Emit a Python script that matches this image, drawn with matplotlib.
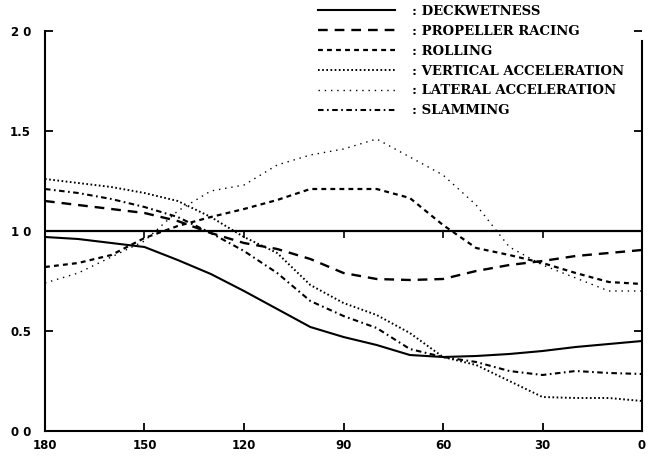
import matplotlib
matplotlib.use("Agg")
import matplotlib.pyplot as plt
from matplotlib.lines import Line2D

plt.rcParams['font.family'] = ['DejaVu Serif', 'Liberation Serif']
plt.rcParams['lines.scale_dashes'] = False

# ---- data ----
angle = [180, 170, 160, 150, 140, 130, 120, 110, 100, 90, 80, 70, 60, 50, 40, 30, 20, 10, 0]
deckwetness = [0.97, 0.96, 0.94, 0.92, 0.855, 0.785, 0.70, 0.61, 0.52, 0.47, 0.43, 0.38, 0.37, 0.375, 0.385, 0.40, 0.42, 0.435, 0.45]
propeller = [1.15, 1.13, 1.11, 1.09, 1.05, 0.99, 0.94, 0.91, 0.86, 0.79, 0.76, 0.755, 0.76, 0.80, 0.83, 0.85, 0.875, 0.89, 0.905]
rolling = [0.82, 0.84, 0.88, 0.965, 1.025, 1.07, 1.11, 1.155, 1.21, 1.21, 1.21, 1.165, 1.03, 0.915, 0.88, 0.84, 0.79, 0.745, 0.735]
vertical = [1.26, 1.24, 1.22, 1.19, 1.15, 1.07, 0.97, 0.89, 0.73, 0.64, 0.58, 0.49, 0.37, 0.33, 0.25, 0.17, 0.165, 0.165, 0.15]
lateral = [0.74, 0.79, 0.87, 0.95, 1.10, 1.20, 1.23, 1.33, 1.38, 1.41, 1.46, 1.37, 1.28, 1.13, 0.92, 0.83, 0.765, 0.70, 0.70]
slamming = [1.21, 1.19, 1.16, 1.12, 1.07, 0.99, 0.90, 0.79, 0.65, 0.575, 0.515, 0.41, 0.37, 0.345, 0.30, 0.28, 0.30, 0.29, 0.285]
baseline = 1.0
baseline_ticks = [150, 120, 90, 60, 30]

labels = [": DECKWETNESS", ": PROPELLER RACING", ": ROLLING",
          ": VERTICAL ACCELERATION", ": LATERAL ACCELERATION", ": SLAMMING"]
xticks = [180, 150, 120, 90, 60, 30, 0]
yticks = [0.0, 0.5, 1.0, 1.5, 2.0]
ytick_labels = ["0 0", "0.5", "1 0", "1.5", "2 0"]

styles = [
    dict(linestyle='-', lw=1.5),
    dict(linestyle=(0, (7, 5)), lw=1.7),
    dict(linestyle=(0, (3.5, 3)), lw=1.6),
    dict(linestyle=(0, (1.2, 1.8)), lw=1.4),
    dict(linestyle=(0, (1, 3.5)), lw=1.0),
    dict(linestyle=(0, (4, 2.5, 1.2, 2.5)), lw=1.5),
]
series = [deckwetness, propeller, rolling, vertical, lateral, slamming]

fig = plt.figure(figsize=(6.5, 4.62), dpi=100)
ax = fig.add_axes([45/650, 31/462, 597/650, 400/462])

for s, st in zip(series, styles):
    ax.plot(angle, s, color='black', **st)

ax.plot([angle[0], angle[-1]], [baseline, baseline], color='black', lw=1.6)
ax.plot(baseline_ticks, [baseline]*len(baseline_ticks), linestyle='none',
        marker=3, ms=5, mew=1.2, color='black')

ax.set_xlim(180, 0)
ax.set_ylim(0, 2.0)
ax.set_xticks(xticks)
ax.set_xticklabels([str(v) for v in xticks], fontsize=8.5, fontweight='bold',
                   family='DejaVu Sans')
ax.set_yticks(yticks)
ax.set_yticklabels(ytick_labels, fontsize=8.5, fontweight='bold', family='DejaVu Sans')
ax.tick_params(direction='in', length=6, width=1.3, right=True, labelright=False)
ax.tick_params(axis='x', pad=6)
ax.tick_params(axis='y', pad=10)
ax.spines['top'].set_visible(False)
for sp in ['left', 'bottom', 'right']:
    ax.spines[sp].set_linewidth(1.5)
ax.spines['right'].set_bounds(0, 1.95)

handles = [Line2D([], [], color='black', **st) for st in styles]
fig.legend(handles, labels, loc='upper left', bbox_to_anchor=(316/650, 1 - 3/462),
           frameon=False, handlelength=5.8, handletextpad=1.3, labelspacing=0.52,
           borderaxespad=0.0, borderpad=0.15,
           prop={'family': 'DejaVu Serif', 'weight': 'bold', 'size': 9.5})

fig.savefig("out.png", dpi=100)
